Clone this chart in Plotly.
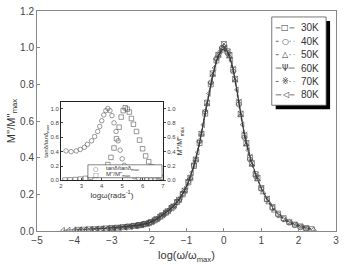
import plotly.graph_objects as go

# ---------------- main data: M''/M''max vs log(w/wmax) ----------------
labels = ["30K", "40K", "50K", "60K", "70K", "80K"]

x30 = [-2.3, -2.15, -2.0, -1.85, -1.7, -1.55, -1.4, -1.25, -1.1, -0.95, -0.8, -0.65, -0.5, -0.35, -0.2, -0.05,
       0.1, 0.25, 0.4, 0.55, 0.7, 0.85, 1.0, 1.15, 1.3, 1.45, 1.6, 1.75, 1.9, 2.05, 2.2, 2.35]
y30 = [0.030, 0.036, 0.043, 0.058, 0.078, 0.100, 0.125, 0.158, 0.200, 0.265, 0.355, 0.480, 0.640, 0.800, 0.930, 0.990,
       0.980, 0.880, 0.700, 0.520, 0.400, 0.310, 0.235, 0.175, 0.130, 0.095, 0.070, 0.050, 0.035, 0.025, 0.016, 0.010]

x40 = [-2.6, -2.45, -2.3, -2.15, -2.0, -1.85, -1.7, -1.55, -1.4, -1.25, -1.1, -0.95, -0.8, -0.65, -0.5, -0.35, -0.2,
       -0.05, 0.1, 0.25, 0.4, 0.55, 0.7, 0.85, 1.0, 1.15, 1.3, 1.45, 1.6, 1.75, 1.9, 2.05, 2.2]
y40 = [0.024, 0.028, 0.033, 0.038, 0.046, 0.060, 0.080, 0.100, 0.130, 0.160, 0.205, 0.270, 0.360, 0.490, 0.650, 0.810,
       0.940, 1.000, 0.970, 0.870, 0.690, 0.510, 0.390, 0.300, 0.230, 0.170, 0.125, 0.090, 0.065, 0.045, 0.032, 0.020, 0.012]

x50 = [-3.0, -2.85, -2.7, -2.55, -2.4, -2.25, -2.1, -1.95, -1.8, -1.65, -1.5, -1.35, -1.2, -1.05, -0.9, -0.75, -0.6,
       -0.45, -0.3, -0.15, 0.0, 0.15, 0.3, 0.45, 0.6, 0.75, 0.9, 1.05, 1.2, 1.35, 1.5, 1.65, 1.8, 1.95, 2.1, 2.25, 2.4]
y50 = [0.016, 0.019, 0.022, 0.025, 0.028, 0.033, 0.040, 0.050, 0.066, 0.087, 0.110, 0.135, 0.170, 0.220, 0.290, 0.390,
       0.530, 0.690, 0.850, 0.960, 1.010, 0.950, 0.820, 0.630, 0.470, 0.360, 0.280, 0.210, 0.155, 0.110, 0.080, 0.058,
       0.045, 0.035, 0.025, 0.016, 0.008]

x60 = [-3.5, -3.35, -3.2, -3.05, -2.9, -2.75, -2.6, -2.45, -2.3, -2.15, -2.0, -1.85, -1.7, -1.55, -1.4, -1.25, -1.1,
       -0.95, -0.8, -0.65, -0.5, -0.35, -0.2, -0.05, 0.1, 0.25, 0.4, 0.55, 0.7, 0.85, 1.0, 1.15, 1.3]
y60 = [0.010, 0.012, 0.013, 0.015, 0.018, 0.020, 0.023, 0.027, 0.031, 0.037, 0.045, 0.059, 0.079, 0.100, 0.127, 0.160,
       0.205, 0.270, 0.360, 0.480, 0.650, 0.800, 0.930, 0.990, 0.980, 0.890, 0.710, 0.530, 0.410, 0.310, 0.235, 0.180, 0.135]

x70 = [-3.9, -3.75, -3.6, -3.45, -3.3, -3.15, -3.0, -2.85, -2.7, -2.55, -2.4, -2.25, -2.1, -1.95, -1.8, -1.65, -1.5,
       -1.35, -1.2, -1.05, -0.9, -0.75, -0.6, -0.45, -0.3, -0.15, 0.0, 0.15, 0.3, 0.45, 0.6, 0.75, 0.9]
y70 = [0.006, 0.007, 0.009, 0.010, 0.012, 0.014, 0.016, 0.018, 0.021, 0.024, 0.028, 0.032, 0.039, 0.049, 0.065, 0.086,
       0.108, 0.134, 0.170, 0.220, 0.290, 0.390, 0.530, 0.700, 0.860, 0.960, 1.020, 0.960, 0.830, 0.640, 0.480, 0.370, 0.290]

x80 = [-4.3, -4.15, -4.0, -3.85, -3.7, -3.55, -3.4, -3.25, -3.1, -2.95, -2.8, -2.65, -2.5, -2.35, -2.2, -2.05, -1.9,
       -1.75, -1.6, -1.45, -1.3, -1.15, -1.0, -0.85, -0.7, -0.55, -0.4, -0.25, -0.1, 0.05, 0.2, 0.35, 0.5, 0.65]
y80 = [0.004, 0.005, 0.006, 0.007, 0.008, 0.009, 0.011, 0.013, 0.015, 0.017, 0.019, 0.022, 0.025, 0.029, 0.034, 0.042,
       0.052, 0.070, 0.093, 0.118, 0.145, 0.185, 0.240, 0.320, 0.430, 0.580, 0.750, 0.890, 0.980, 1.000, 0.930, 0.770,
       0.580, 0.440]

# ---------------- inset data ----------------
xi_tan = [2.25, 2.5, 2.75, 2.95, 3.15, 3.3, 3.5, 3.65, 3.8, 3.9, 4.0, 4.1, 4.2, 4.3, 4.4, 4.5, 4.6, 4.7, 4.8, 4.9,
          5.0, 5.1, 5.25, 5.4, 5.6, 5.8, 6.0, 6.2, 6.4, 6.6, 6.8]
yi_tan = [0.41, 0.40, 0.41, 0.43, 0.46, 0.50, 0.55, 0.61, 0.68, 0.75, 0.83, 0.91, 0.97, 1.00, 0.97, 0.90, 0.80, 0.68,
          0.55, 0.42, 0.30, 0.21, 0.14, 0.09, 0.05, 0.03, 0.02, 0.012, 0.008, 0.005, 0.003]
xi_m = [2.2, 2.45, 2.7, 2.95, 3.2, 3.45, 3.7, 3.95, 4.15, 4.3, 4.45, 4.6, 4.72, 4.85, 4.95, 5.05, 5.15, 5.25, 5.35,
        5.45, 5.55, 5.7, 5.85, 6.0, 6.15, 6.3, 6.45, 6.6, 6.75, 6.9]
yi_m = [0.005, 0.008, 0.012, 0.018, 0.028, 0.045, 0.070, 0.110, 0.160, 0.220, 0.320, 0.450, 0.580, 0.740, 0.880,
        0.970, 1.010, 0.990, 0.950, 0.860, 0.780, 0.680, 0.560, 0.440, 0.340, 0.260, 0.190, 0.130, 0.080, 0.040]

series_x = [x30, x40, x50, x60, x70, x80]
series_y = [y30, y40, y50, y60, y70, y80]
symbols = ["square-open", "circle-open", "triangle-up-open", "y-down-open", "square-x-open", "triangle-left-open"]
dashes = ["solid", "dot", "dot", "solid", "dot", "solid"]
glyphs = ["\u25a1", "\u25cb", "\u25b3", "\u03a8", "\u203b", "\u25c1"]

W, H = 344, 265
ML, MR, MT, MB = 36.5, 5, 10, 33.3
PW, PH = W - ML - MR, H - MT - MB


def px(xp):
    return (xp - ML) / PW


def py(yp):
    return (H - MB - yp) / PH


fig = go.Figure()
for xs, ys, sym, dsh, lab in zip(series_x, series_y, symbols, dashes, labels):
    fig.add_trace(go.Scatter(x=xs, y=ys, mode="lines+markers", name=lab, showlegend=False,
                             line=dict(color="#333", width=0.6, dash=dsh),
                             marker=dict(symbol=sym, size=5, color="#444", line=dict(width=0.6, color="#444")),
                             xaxis="x", yaxis="y"))

fig.add_trace(go.Scatter(x=xi_tan, y=yi_tan, mode="markers", showlegend=False,
                         marker=dict(symbol="circle-open", size=4.5, color="#555", line=dict(width=0.6)),
                         xaxis="x2", yaxis="y2"))
fig.add_trace(go.Scatter(x=xi_m, y=yi_m, mode="markers", showlegend=False,
                         marker=dict(symbol="square-open", size=4.5, color="#555", line=dict(width=0.6)),
                         xaxis="x2", yaxis="y3"))

axis_common = dict(showgrid=False, zeroline=False, showline=True, mirror=True)
ins_x0, ins_x1 = px(60.7), px(164)
ins_y0, ins_y1 = py(180.7), py(101.7)

fig.update_layout(
    width=W, height=H, margin=dict(l=ML, r=MR, t=MT, b=MB),
    paper_bgcolor="white", plot_bgcolor="white",
    font=dict(family="Liberation Sans, Arial, sans-serif", color="#333"),
    xaxis=dict(domain=[0, 1], range=[-5, 3], dtick=1, ticks="inside", ticklen=3, linecolor="#888",
               tickcolor="#888", linewidth=1, tickfont=dict(size=10, color="#444"),
               title=dict(text="log(\u03c9/\u03c9<sub>max</sub>)", font=dict(size=11, color="#333"), standoff=6),
               **axis_common),
    yaxis=dict(domain=[0, 1], range=[0, 1.2], dtick=0.2, tickformat=".1f", ticks="inside", ticklen=3,
               linecolor="#888", tickcolor="#888", linewidth=1, tickfont=dict(size=10, color="#444"),
               title=dict(text="M''/M''<sub>max</sub>", font=dict(size=11, color="#333"), standoff=2),
               **axis_common),
    xaxis2=dict(domain=[ins_x0, ins_x1], anchor="y2", range=[2, 7], dtick=1, ticks="inside", ticklen=2,
                linecolor="#222", linewidth=0.8, tickfont=dict(size=6, color="#444"),
                title=dict(text="log\u03c9(rads<sup>-1</sup>)", font=dict(size=8, color="#333"), standoff=1),
                **axis_common),
    yaxis2=dict(domain=[ins_y0, ins_y1], anchor="x2", range=[0, 1.09], dtick=0.2, tickformat=".1f",
                ticks="inside", ticklen=2, linecolor="#222", linewidth=0.8, tickfont=dict(size=6, color="#444"),
                title=dict(text="tan\u03b4/tan\u03b4<sub>max</sub>", font=dict(size=6, color="#333"), standoff=1),
                **axis_common),
    yaxis3=dict(overlaying="y2", anchor="x2", side="right", range=[0, 1.09], dtick=0.2, tickformat=".1f",
                ticks="outside", ticklen=2, showgrid=False, zeroline=False, showline=False,
                tickfont=dict(size=6, color="#444"),
                title=dict(text="M''/M''<sub>max</sub>", font=dict(size=7, color="#333"), standoff=1)),
)

shapes = []
annotations = []
# main legend: shadow + box
shapes.append(dict(type="rect", xref="paper", yref="paper", x0=px(278), x1=px(333), y0=py(109), y1=py(20),
                   fillcolor="black", line=dict(width=0), layer="above"))
shapes.append(dict(type="rect", xref="paper", yref="paper", x0=px(274), x1=px(329), y0=py(105), y1=py(16),
                   fillcolor="white", line=dict(color="#555", width=0.8), layer="above"))
row_y = [27, 40.5, 54, 67.5, 81, 94.5]
for ry, dsh, gl, lab in zip(row_y, dashes, glyphs, labels):
    shapes.append(dict(type="line", xref="paper", yref="paper", x0=px(278), x1=px(297), y0=py(ry), y1=py(ry),
                       line=dict(color="#333", width=0.7, dash=dsh), layer="above"))
    annotations.append(dict(xref="paper", yref="paper", x=px(287.5), y=py(ry), text=gl, showarrow=False,
                            xanchor="center", yanchor="middle",
                            font=dict(size=8, family="DejaVu Sans", color="#333"), bgcolor="white",
                            borderpad=0))
    annotations.append(dict(xref="paper", yref="paper", x=px(302), y=py(ry), text=lab, showarrow=False,
                            xanchor="left", yanchor="middle",
                            font=dict(size=10, color="#333")))

# inset legend box
shapes.append(dict(type="rect", xref="paper", yref="paper", x0=px(88), x1=px(163), y0=py(178), y1=py(165),
                   fillcolor="white", line=dict(color="#333", width=0.6), layer="above"))
for ry, gl, lab in [(168.5, "\u25cb", "tan\u03b4/tan\u03b4<sub>max</sub>"), (174.5, "\u25a1", "M''/M''<sub>max</sub>")]:
    annotations.append(dict(xref="paper", yref="paper", x=px(96), y=py(ry), text=gl, showarrow=False,
                            xanchor="center", yanchor="middle",
                            font=dict(size=6, family="DejaVu Sans", color="#444")))
    annotations.append(dict(xref="paper", yref="paper", x=px(104), y=py(ry), text=lab, showarrow=False,
                            xanchor="left", yanchor="middle", font=dict(size=6, color="#333")))

fig.update_layout(shapes=shapes, annotations=annotations)
fig.write_html("out.html")
